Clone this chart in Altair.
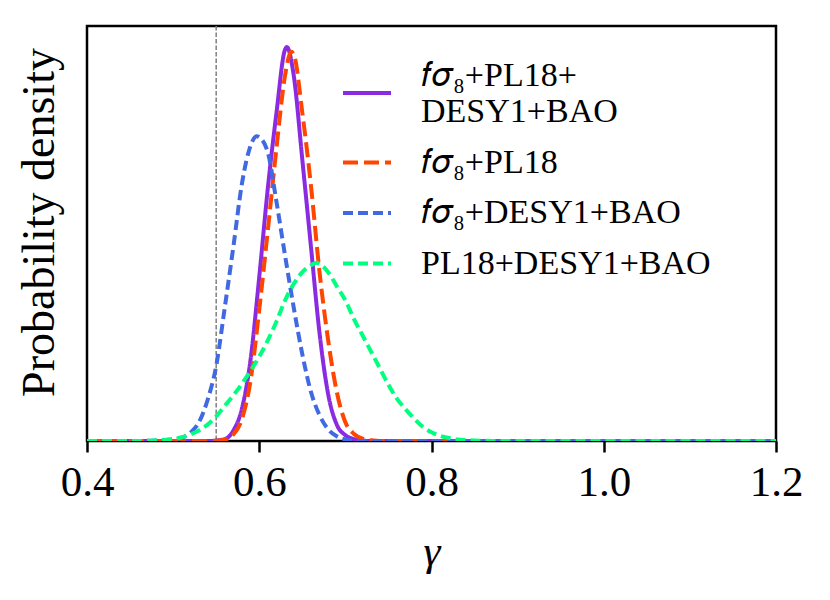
import altair as alt
import pandas as pd

# ---- data ----
series_names = ["𝑓𝜎₈+PL18+|DESY1+BAO", "𝑓𝜎₈+PL18", "𝑓𝜎₈+DESY1+BAO", "PL18+DESY1+BAO"]
series_colors = ["#8A2BE2", "#FF4500", "#4169E1", "#00FF7F"]

purple_gamma = [0.40, 0.54, 0.55, 0.56, 0.57, 0.58, 0.59, 0.60, 0.61, 0.62, 0.63, 0.632,
                0.64, 0.65, 0.66, 0.67, 0.68, 0.69, 0.70, 0.71, 0.72, 0.73, 1.20]
purple_density = [0, 0, 0.02, 0.08, 0.45, 1.4, 3.5, 7.0, 10.8, 14.0, 16.7, 16.8,
                  15.6, 12.0, 8.3, 4.6, 2.0, 0.7, 0.25, 0.08, 0.02, 0, 0]

red_gamma = [0.40, 0.54, 0.55, 0.56, 0.57, 0.58, 0.59, 0.60, 0.61, 0.62, 0.63, 0.637,
             0.64, 0.65, 0.66, 0.67, 0.68, 0.69, 0.70, 0.71, 0.72, 0.73, 0.74, 1.20]
red_density = [0, 0, 0.01, 0.05, 0.28, 0.95, 2.6, 5.6, 9.0, 12.5, 15.6, 16.6,
               16.5, 14.0, 10.9, 7.2, 4.3, 2.1, 0.8, 0.3, 0.1, 0.03, 0, 0]

blue_gamma = [0.40, 0.46, 0.47, 0.48, 0.49, 0.50, 0.51, 0.52, 0.53, 0.54, 0.55, 0.56, 0.57,
              0.58, 0.59, 0.597, 0.60, 0.61, 0.62, 0.63, 0.64, 0.65, 0.66, 0.67, 0.68,
              0.69, 0.70, 0.71, 0.72, 1.20]
blue_density = [0, 0, 0.01, 0.02, 0.04, 0.07, 0.13, 0.35, 0.8, 1.75, 3.2, 5.7, 8.3,
                11.0, 12.6, 13.0, 12.95, 12.3, 10.2, 7.9, 5.7, 3.7, 2.1, 1.1, 0.5,
                0.2, 0.07, 0.02, 0, 0]

green_gamma = [0.40, 0.46, 0.47, 0.48, 0.49, 0.50, 0.51, 0.52, 0.53, 0.54, 0.55, 0.56, 0.57,
               0.58, 0.59, 0.60, 0.61, 0.62, 0.63, 0.64, 0.65, 0.66, 0.667, 0.67, 0.68,
               0.69, 0.70, 0.71, 0.72, 0.73, 0.74, 0.75, 0.76, 0.77, 0.78, 0.79, 0.80,
               0.81, 0.82, 0.83, 0.84, 0.85, 0.86, 0.87, 1.20]
green_density = [0, 0, 0.01, 0.02, 0.04, 0.08, 0.16, 0.28, 0.45, 0.7, 1.05, 1.5, 1.95,
                 2.45, 3.0, 3.6, 4.3, 5.1, 6.0, 6.7, 7.2, 7.5, 7.6, 7.55, 7.2,
                 6.6, 6.0, 5.2, 4.5, 3.8, 3.1, 2.4, 1.8, 1.35, 0.95, 0.6, 0.37,
                 0.22, 0.13, 0.07, 0.04, 0.02, 0.01, 0, 0]

gamma_ref = [0.55]
x_ticks = [0.4, 0.6, 0.8, 1.0, 1.2]

# ---- build table ----
rows = []
for name, gs, ds in zip(series_names,
                        [purple_gamma, red_gamma, blue_gamma, green_gamma],
                        [purple_density, red_density, blue_density, green_density]):
    for g, d in zip(gs, ds):
        rows.append({"series": name, "gamma": g, "density": d})
df = pd.DataFrame(rows)
ref_df = pd.DataFrame({"gamma": gamma_ref})

FONT = "Liberation Serif"

x_scale = alt.Scale(domain=[0.4, 1.2], nice=False, zero=False)
y_scale = alt.Scale(domain=[0, 17.7], nice=False, zero=True)

ref_line = alt.Chart(ref_df).mark_rule(
    color="#808080", strokeWidth=1.5, strokeDash=[4.5, 2]
).encode(
    x=alt.X("gamma:Q", scale=x_scale)
)

lines = alt.Chart(df).mark_line(interpolate="monotone", clip=True).encode(
    x=alt.X("gamma:Q", scale=x_scale,
            axis=alt.Axis(values=x_ticks, format=".1f", title="γ",
                          labelFont=FONT, labelFontSize=43, labelColor="black",
                          labelFlush=False, labelOverlap=False,
                          tickColor="black", tickSize=11, tickWidth=2.5,
                          labelPadding=9, domain=False, grid=False,
                          titleFont=FONT, titleFontSize=43, titleFontStyle="italic",
                          titleFontWeight="normal", titleColor="black", titlePadding=26)),
    y=alt.Y("density:Q", scale=y_scale,
            axis=alt.Axis(labels=False, ticks=False, domain=False, grid=False,
                          title="Probability density", titleFont=FONT,
                          titleFontSize=46, titleFontWeight="normal", titleColor="black",
                          titleX=-34, titleY=196, titleBaseline="alphabetic",
                          titleAlign="center")),
    color=alt.Color("series:N",
                    scale=alt.Scale(domain=series_names, range=series_colors),
                    legend=alt.Legend(orient="none", legendX=254, legendY=41, title=None,
                                      symbolType="stroke", symbolSize=2304,
                                      labelFont=FONT, labelFontSize=34, labelColor="black",
                                      labelOffset=28, rowPadding=7.5, padding=0,
                                      labelLimit=0,
                                      labelExpr="split(datum.label, '|')")),
    strokeDash=alt.StrokeDash("series:N",
                              scale=alt.Scale(domain=series_names,
                                              range=[[1, 0], [15, 6], [10, 5], [10, 5]])),
    strokeWidth=alt.StrokeWidth("series:N",
                                scale=alt.Scale(domain=series_names, range=[4, 4, 3, 3])),
)

chart = alt.layer(ref_line, lines).properties(
    width=689, height=415,
    padding={"left": 79, "top": 18, "right": 30, "bottom": 150},
    autosize=alt.AutoSizeParams(type="none"),
    background="white",
).configure_view(stroke="black", strokeWidth=2.5)

# centre the two-line label on its legend line (shift it up half a line)
label_patch = [{
    "op": "add",
    "path": "/legends/0/encode/labels/update/dy",
    "value": {"signal": "indexof(datum.value, '|') >= 0 ? -17 : 0"},
}]

chart.save("out.html", embed_options={"renderer": "svg", "actions": False,
                                      "patch": label_patch})
